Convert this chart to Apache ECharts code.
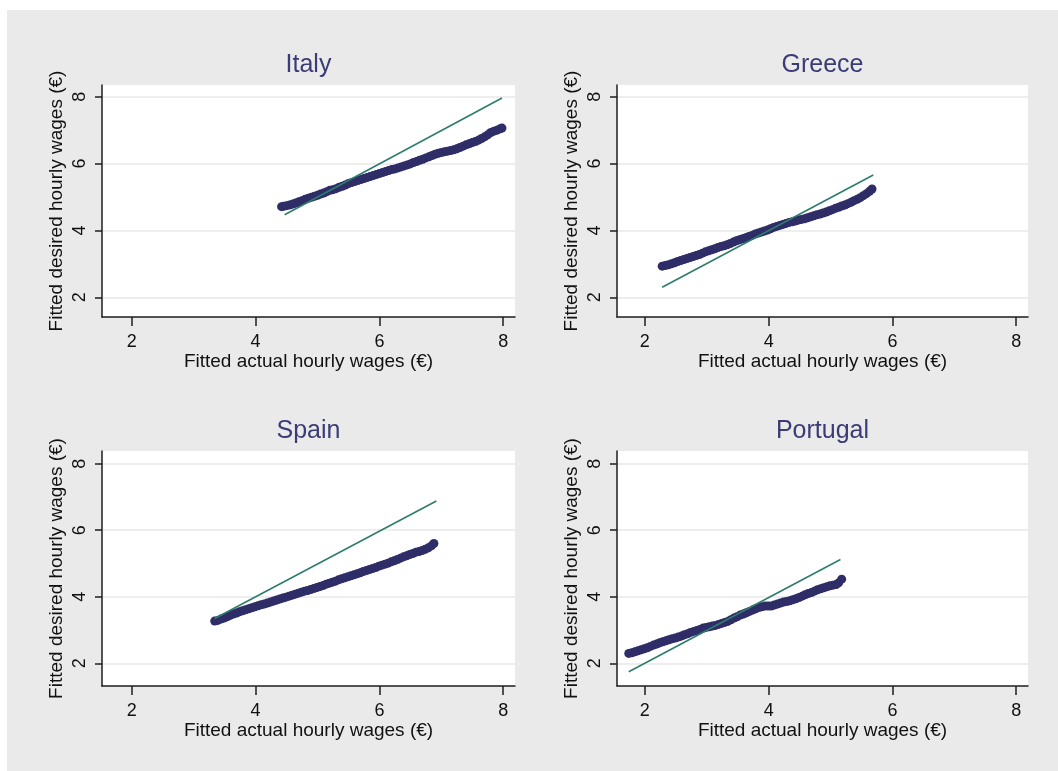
<!DOCTYPE html>
<html>
<head>
<meta charset="utf-8">
<script src="https://cdn.jsdelivr.net/npm/echarts@6/dist/echarts.min.js"></script>
<style>
html,body{margin:0;padding:0;background:#fff;}
#chart{width:1058px;height:771px;}
</style>
</head>
<body>
<div id="chart"></div>
<script>
// ---- data ----
const panelTitles = ['Italy', 'Greece', 'Spain', 'Portugal'];
const xTitle = 'Fitted actual hourly wages (€)';
const yTitle = 'Fitted desired hourly wages (€)';
const xTicks = [2, 4, 6, 8];
const yTicks = [2, 4, 6, 8];

const italyX = [4.42,4.45,4.50,4.55,4.60,4.65,4.70,4.75,4.80,4.85,4.90,4.95,5.00,5.05,5.10,5.15,5.20,5.25,5.30,5.35,5.40,5.45,5.50,5.55,5.60,5.65,5.70,5.75,5.80,5.85,5.90,5.95,6.00,6.05,6.10,6.15,6.20,6.25,6.30,6.35,6.40,6.45,6.50,6.55,6.60,6.65,6.70,6.75,6.80,6.85,6.90,6.95,7.00,7.05,7.10,7.15,7.20,7.25,7.30,7.35,7.40,7.45,7.50,7.55,7.60,7.65,7.70,7.75,7.80,7.85,7.90,7.95,7.98];
const italyY = [4.71,4.72,4.74,4.76,4.79,4.82,4.86,4.89,4.93,4.96,4.99,5.02,5.05,5.09,5.12,5.16,5.20,5.22,5.25,5.29,5.32,5.36,5.40,5.43,5.46,5.49,5.52,5.55,5.58,5.61,5.64,5.67,5.70,5.73,5.76,5.79,5.82,5.84,5.87,5.90,5.93,5.96,5.99,6.03,6.06,6.10,6.13,6.17,6.20,6.24,6.28,6.31,6.33,6.35,6.37,6.39,6.41,6.44,6.48,6.52,6.56,6.59,6.63,6.66,6.70,6.75,6.80,6.86,6.93,6.97,7.00,7.04,7.06];

const greeceX = [2.28,2.33,2.38,2.43,2.48,2.53,2.58,2.63,2.68,2.73,2.78,2.83,2.88,2.93,2.98,3.03,3.08,3.13,3.18,3.23,3.28,3.33,3.38,3.43,3.48,3.53,3.58,3.63,3.68,3.73,3.78,3.83,3.88,3.93,3.98,4.03,4.08,4.13,4.18,4.23,4.28,4.33,4.38,4.43,4.48,4.53,4.58,4.63,4.68,4.73,4.78,4.83,4.88,4.93,4.98,5.03,5.08,5.13,5.18,5.23,5.28,5.33,5.38,5.43,5.48,5.53,5.58,5.63,5.67];
const greeceY = [2.93,2.95,2.97,3.00,3.03,3.07,3.10,3.13,3.16,3.19,3.22,3.25,3.28,3.32,3.36,3.39,3.42,3.45,3.49,3.52,3.54,3.57,3.61,3.65,3.69,3.72,3.75,3.78,3.82,3.85,3.89,3.92,3.95,3.98,4.01,4.05,4.09,4.12,4.15,4.18,4.21,4.24,4.26,4.28,4.31,4.33,4.35,4.38,4.41,4.44,4.47,4.49,4.52,4.55,4.59,4.62,4.66,4.69,4.73,4.76,4.80,4.84,4.89,4.93,4.98,5.04,5.10,5.17,5.24];

const spainX = [3.34,3.39,3.44,3.49,3.54,3.59,3.64,3.69,3.74,3.79,3.84,3.89,3.94,3.99,4.04,4.09,4.14,4.19,4.24,4.29,4.34,4.39,4.44,4.49,4.54,4.59,4.64,4.69,4.74,4.79,4.84,4.89,4.94,4.99,5.04,5.09,5.14,5.19,5.24,5.29,5.34,5.39,5.44,5.49,5.54,5.59,5.64,5.69,5.74,5.79,5.84,5.89,5.94,5.99,6.04,6.09,6.14,6.19,6.24,6.29,6.34,6.39,6.44,6.49,6.54,6.59,6.64,6.69,6.74,6.79,6.84,6.88];
const spainY = [3.27,3.29,3.33,3.36,3.40,3.44,3.48,3.51,3.55,3.58,3.61,3.64,3.67,3.70,3.73,3.76,3.78,3.81,3.84,3.87,3.90,3.93,3.96,3.99,4.02,4.05,4.08,4.11,4.14,4.17,4.19,4.22,4.25,4.28,4.31,4.34,4.38,4.41,4.44,4.47,4.51,4.54,4.57,4.60,4.63,4.66,4.69,4.72,4.76,4.79,4.82,4.85,4.88,4.92,4.95,4.98,5.01,5.05,5.08,5.12,5.16,5.20,5.23,5.27,5.30,5.34,5.36,5.39,5.43,5.47,5.53,5.60];

const portugalX = [1.74,1.79,1.84,1.89,1.94,1.99,2.04,2.09,2.14,2.19,2.24,2.29,2.34,2.39,2.44,2.49,2.54,2.59,2.64,2.69,2.74,2.79,2.84,2.89,2.94,2.99,3.04,3.09,3.14,3.19,3.24,3.29,3.34,3.39,3.44,3.49,3.54,3.59,3.64,3.69,3.74,3.79,3.84,3.89,3.94,3.99,4.04,4.09,4.14,4.19,4.24,4.29,4.34,4.39,4.44,4.49,4.54,4.59,4.64,4.69,4.74,4.79,4.84,4.89,4.94,4.99,5.04,5.09,5.13,5.18];
const portugalY = [2.30,2.32,2.35,2.38,2.41,2.44,2.47,2.51,2.55,2.58,2.62,2.65,2.68,2.71,2.74,2.76,2.79,2.82,2.86,2.89,2.93,2.96,2.99,3.02,3.06,3.08,3.10,3.12,3.14,3.17,3.20,3.23,3.26,3.31,3.36,3.40,3.45,3.48,3.52,3.56,3.60,3.64,3.68,3.70,3.72,3.72,3.72,3.75,3.78,3.81,3.84,3.86,3.88,3.91,3.94,3.98,4.02,4.06,4.10,4.13,4.17,4.21,4.24,4.27,4.30,4.33,4.35,4.37,4.42,4.53];

// 45-degree reference line end points
const italyLineX = [4.47, 7.98];
const italyLineY = [4.47, 7.96];
const greeceLineX = [2.28, 5.69];
const greeceLineY = [2.30, 5.66];
const spainLineX = [3.34, 6.92];
const spainLineY = [3.35, 6.88];
const portugalLineX = [1.74, 5.16];
const portugalLineY = [1.75, 5.12];

// ---- build chart ----
const zip = (a, b) => a.map((v, i) => [v, b[i]]);
const scatterSets = [zip(italyX, italyY), zip(greeceX, greeceY), zip(spainX, spainY), zip(portugalX, portugalY)];
const lineSets = [zip(italyLineX, italyLineY), zip(greeceLineX, greeceLineY), zip(spainLineX, spainLineY), zip(portugalLineX, portugalLineY)];

const FONT = '"Liberation Sans", Arial, sans-serif';
const grids = [
  {left: 102, top: 85, width: 413, height: 232},
  {left: 617, top: 85, width: 411, height: 232},
  {left: 102, top: 451, width: 413, height: 235},
  {left: 617, top: 451, width: 411, height: 235}
];
const xRanges = [[1.52, 8.19], [1.55, 8.19], [1.52, 8.19], [1.55, 8.19]];
const yRanges = [[1.41, 8.35], [1.41, 8.35], [1.32, 8.38], [1.32, 8.38]];

const axisColor = '#1e1e1e';
const option = {
  backgroundColor: '#eaeaea',
  animation: false,
  grid: grids.map(g => Object.assign({show: true, backgroundColor: '#ffffff', borderWidth: 0, containLabel: false}, g)),
  xAxis: grids.map((g, i) => ({
    type: 'value', gridIndex: i, min: xRanges[i][0], max: xRanges[i][1],
    name: xTitle, nameLocation: 'middle', nameGap: 32,
    nameTextStyle: {fontFamily: FONT, fontSize: 19, color: '#111'},
    axisLine: {show: true, onZero: false, lineStyle: {color: axisColor, width: 1.5}},
    axisTick: {show: true, length: 9, customValues: xTicks, lineStyle: {color: axisColor, width: 1.5}},
    axisLabel: {customValues: xTicks, margin: 16, fontFamily: FONT, fontSize: 18, color: '#111'},
    splitLine: {show: false}
  })),
  yAxis: grids.map((g, i) => ({
    type: 'value', gridIndex: i, min: yRanges[i][0], max: yRanges[i][1],
    name: yTitle, nameLocation: 'middle', nameGap: 36,
    nameTextStyle: {fontFamily: FONT, fontSize: 19, color: '#111'},
    axisLine: {show: true, onZero: false, lineStyle: {color: axisColor, width: 1.5}},
    axisTick: {show: true, length: 7, customValues: yTicks, lineStyle: {color: axisColor, width: 1.5}},
    axisLabel: {customValues: yTicks, rotate: 90, margin: 13, fontFamily: FONT, fontSize: 18, color: '#111'},
    splitLine: {show: true, lineStyle: {color: '#e9e9e9', width: 1.5}}
  })),
  graphic: [
    {type: 'rect', shape: {x: 0, y: 0, width: 1058, height: 10}, style: {fill: '#ffffff'}, silent: true},
    {type: 'rect', shape: {x: 0, y: 0, width: 7, height: 771}, style: {fill: '#ffffff'}, silent: true}
  ].concat(panelTitles.map((t, i) => ({
    type: 'text',
    x: grids[i].left + grids[i].width / 2,
    y: grids[i].top - 20,
    style: {text: t, fill: '#3b3b76', font: '25px ' + FONT, align: 'center', verticalAlign: 'middle'},
    silent: true
  }))),
  series: []
};

scatterSets.forEach((d, i) => {
  option.series.push({
    type: 'scatter', xAxisIndex: i, yAxisIndex: i, data: d,
    symbol: 'circle', symbolSize: 9,
    itemStyle: {color: '#2f2d67', opacity: 1},
    z: 2
  });
});
lineSets.forEach((d, i) => {
  option.series.push({
    type: 'line', xAxisIndex: i, yAxisIndex: i, data: d,
    showSymbol: false, symbol: 'none',
    lineStyle: {color: '#2e7d6c', width: 1.6},
    z: 3
  });
});

const chart = echarts.init(document.getElementById('chart'), null, {renderer: 'canvas'});
chart.setOption(option);
</script>
</body>
</html>
